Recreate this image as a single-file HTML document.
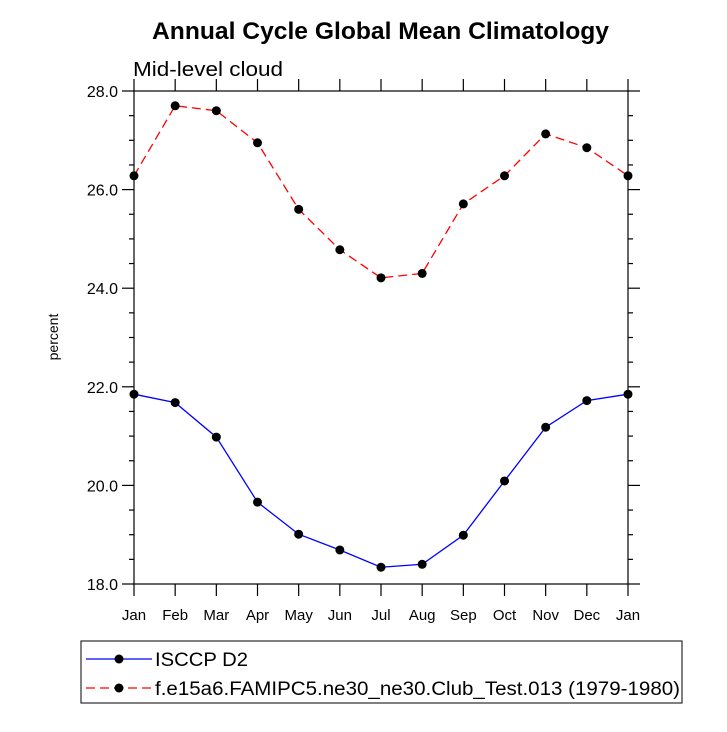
<!DOCTYPE html>
<html><head><meta charset="utf-8"><style>
body{margin:0;background:#fff}
text{font-family:"Liberation Sans",sans-serif}
</style></head><body>
<svg id="chart" width="727" height="727" xmlns="http://www.w3.org/2000/svg"></svg>
<script>
const months=["Jan","Feb","Mar","Apr","May","Jun","Jul","Aug","Sep","Oct","Nov","Dec","Jan"];
const isccp=[21.85,21.68,20.98,19.66,19.01,18.69,18.34,18.40,18.99,20.09,21.18,21.72,21.85];
const model=[26.28,27.70,27.60,26.95,25.60,24.78,24.21,24.30,25.71,26.28,27.13,26.85,26.28];
const yTicks=[18,20,22,24,26,28];
const NS="http://www.w3.org/2000/svg";
const svg=document.getElementById('chart');
const L=134,R=628,T=91,B=584,ymin=18,ymax=28;
const xs=i=>L+(R-L)*i/(months.length-1);
const ys=v=>B-(B-T)*(v-ymin)/(ymax-ymin);
function mk(tag,a,p){const e=document.createElementNS(NS,tag);for(const k in a)e.setAttribute(k,a[k]);(p||svg).appendChild(e);return e;}
function txt(x,y,s,a){const e=mk('text',Object.assign({x:x,y:y},a));e.textContent=s;return e;}
let t=txt(152,39,"Annual Cycle Global Mean Climatology",{"font-size":"24","font-weight":"bold",textLength:"457",lengthAdjust:"spacingAndGlyphs"});


t=txt(133,76,"Mid-level cloud",{"font-size":"20",textLength:"150",lengthAdjust:"spacingAndGlyphs"});


t=txt(58,337,"percent",{"font-size":"14","text-anchor":"middle",transform:"rotate(-90 58 337)"});


const ax=mk('g',{stroke:"#000","stroke-width":"1.2",fill:"none"});


mk('rect',{x:L,y:T,width:R-L,height:B-T},ax);
for(let v=ymin;v<=ymax+1e-9;v+=0.5){
  const y=ys(v),major=Math.abs(v%2)<1e-9;const len=major?12:5;
  mk('line',{x1:L-len,y1:y,x2:L,y2:y},ax);
  mk('line',{x1:R,y1:y,x2:R+len,y2:y},ax);
}
yTicks.forEach(v=>{const e=txt(L-16,ys(v)+6,v.toFixed(1),{"font-size":"16","text-anchor":"end"});

});
months.forEach((m,i)=>{const x=xs(i);
  mk('line',{x1:x,y1:B,x2:x,y2:B+12},ax);mk('line',{x1:x,y1:T-12,x2:x,y2:T},ax);
  const e=txt(x,B+36,m,{"font-size":"15","text-anchor":"middle"});
  
  });
function series(vals,color,dash,name){
  const g=mk('g',{});
  
  
  const pts=vals.map((v,i)=>xs(i)+","+ys(v)).join(" ");
  const a={points:pts,fill:"none",stroke:color,"stroke-width":"1.3"};if(dash)a["stroke-dasharray"]=dash;
  mk('polyline',a,g);
  vals.forEach((v,i)=>{const c=mk('circle',{cx:xs(i),cy:ys(v),r:4.5,fill:"#000"},g);
    
    });
}
series(isccp,"#0000ff",null,"isccp-series");
series(model,"#ff0000","9,5","model-series");
const lg=mk('g',{});


mk('rect',{x:81,y:641,width:601,height:62,fill:"none",stroke:"#000","stroke-width":"1"},lg);
mk('line',{x1:86,y1:659,x2:152,y2:659,stroke:"#0000ff","stroke-width":"1.3"},lg);
mk('circle',{cx:119,cy:659,r:4.5,fill:"#000"},lg);
let e=txt(155,666,"ISCCP D2",{"font-size":"19",textLength:"93",lengthAdjust:"spacingAndGlyphs"});e.remove();lg.appendChild(e);


mk('line',{x1:86,y1:688,x2:152,y2:688,stroke:"#ff0000","stroke-width":"1.3","stroke-dasharray":"9,5"},lg);
mk('circle',{cx:119,cy:688,r:4.5,fill:"#000"},lg);
e=txt(155,695,"f.e15a6.FAMIPC5.ne30_ne30.Club_Test.013 (1979-1980)",{"font-size":"19",textLength:"525",lengthAdjust:"spacingAndGlyphs"});e.remove();lg.appendChild(e);


</script>
</body></html>
